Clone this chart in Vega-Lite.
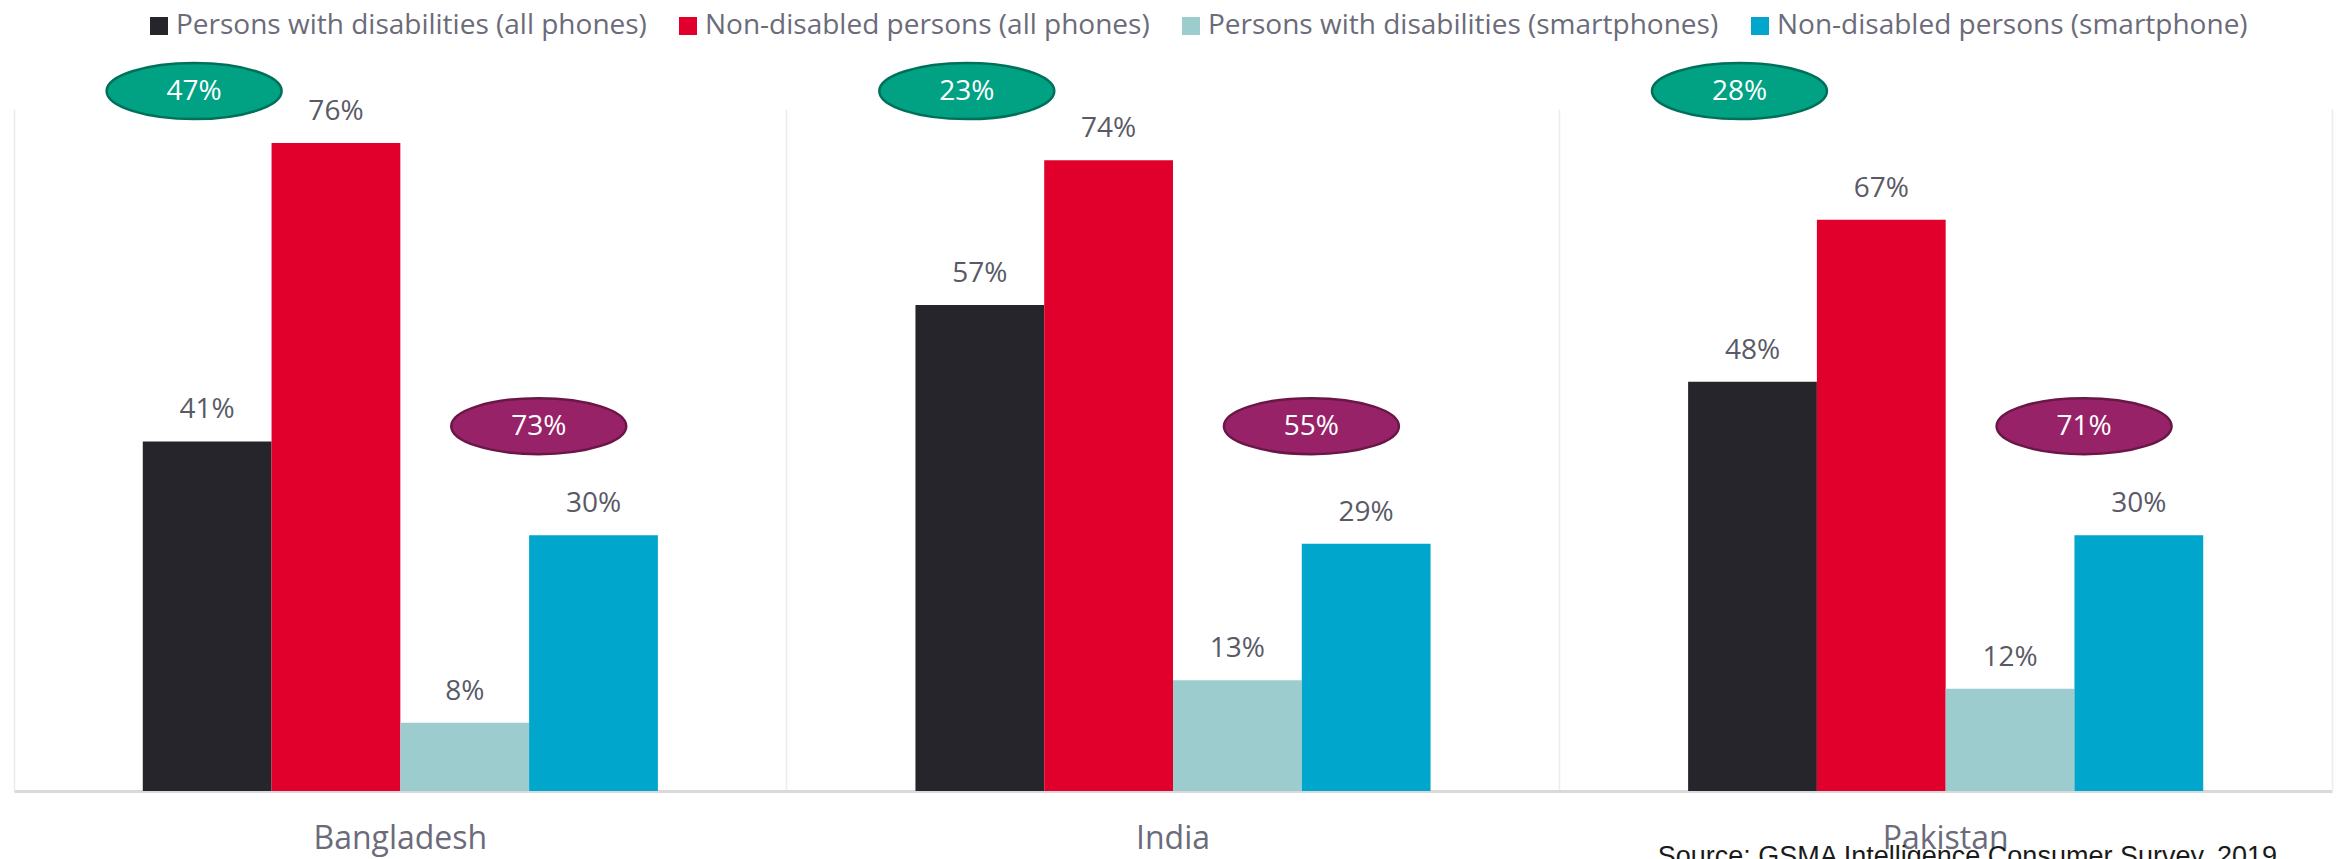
{
  "$schema": "https://vega.github.io/schema/vega-lite/v6.json",
  "width": 2318,
  "height": 682,
  "autosize": {"type": "none"},
  "padding": {"left": 14, "top": 109, "right": 9, "bottom": 68},
  "background": "white",
  "config": {"view": {"stroke": null}, "font": "Open Sans"},
  "title": {
    "text": "Source: GSMA Intelligence Consumer Survey, 2019",
    "orient": "bottom",
    "anchor": "end",
    "font": "Liberation Sans",
    "fontSize": 27,
    "fontWeight": "normal",
    "color": "#1a1a1a",
    "baseline": "top",
    "offset": -10,
    "dx": -55
  },
  "datasets": {
    "bars": [
      {"Country": "Bangladesh", "Series": "Persons with disabilities (all phones)", "Value": 0.41},
      {"Country": "Bangladesh", "Series": "Non-disabled persons (all phones)", "Value": 0.76},
      {"Country": "Bangladesh", "Series": "Persons with disabilities (smartphones)", "Value": 0.08},
      {"Country": "Bangladesh", "Series": "Non-disabled persons (smartphone)", "Value": 0.30},
      {"Country": "India", "Series": "Persons with disabilities (all phones)", "Value": 0.57},
      {"Country": "India", "Series": "Non-disabled persons (all phones)", "Value": 0.74},
      {"Country": "India", "Series": "Persons with disabilities (smartphones)", "Value": 0.13},
      {"Country": "India", "Series": "Non-disabled persons (smartphone)", "Value": 0.29},
      {"Country": "Pakistan", "Series": "Persons with disabilities (all phones)", "Value": 0.48},
      {"Country": "Pakistan", "Series": "Non-disabled persons (all phones)", "Value": 0.67},
      {"Country": "Pakistan", "Series": "Persons with disabilities (smartphones)", "Value": 0.12},
      {"Country": "Pakistan", "Series": "Non-disabled persons (smartphone)", "Value": 0.30}
    ],
    "gapAll": [
      {"Country": "Bangladesh", "Gap": 0.47},
      {"Country": "India", "Gap": 0.23},
      {"Country": "Pakistan", "Gap": 0.28}
    ],
    "gapSmart": [
      {"Country": "Bangladesh", "Gap": 0.73},
      {"Country": "India", "Gap": 0.55},
      {"Country": "Pakistan", "Gap": 0.71}
    ]
  },
  "layer": [
    {
      "data": {"name": "bars"},
      "mark": {"type": "bar"},
      "encoding": {
        "x": {
          "field": "Country",
          "type": "nominal",
          "sort": ["Bangladesh", "India", "Pakistan"],
          "scale": {"paddingInner": 0, "paddingOuter": 0},
          "axis": {
            "title": null,
            "labelFontSize": 32,
            "labelColor": "#6b6b7a",
            "labelPadding": 32,
            "labelAngle": 0,
            "ticks": false,
            "domainColor": "#d9d9d9",
            "domainWidth": 3,
            "grid": true,
            "gridColor": "#ececec",
            "gridWidth": 1.5,
            "bandPosition": 0
          }
        },
        "xOffset": {
          "field": "Series",
          "type": "nominal",
          "scale": {
            "domain": [
              "Persons with disabilities (all phones)",
              "Non-disabled persons (all phones)",
              "Persons with disabilities (smartphones)",
              "Non-disabled persons (smartphone)"
            ],
            "paddingInner": 0,
            "paddingOuter": 1.11
          }
        },
        "y": {
          "field": "Value",
          "type": "quantitative",
          "scale": {"domain": [0, 0.8], "nice": false},
          "axis": {
            "orient": "right",
            "title": null,
            "labels": false,
            "ticks": false,
            "grid": false,
            "domainColor": "#ececec",
            "domainWidth": 1.5
          }
        },
        "color": {
          "field": "Series",
          "type": "nominal",
          "scale": {
            "domain": [
              "Persons with disabilities (all phones)",
              "Non-disabled persons (all phones)",
              "Persons with disabilities (smartphones)",
              "Non-disabled persons (smartphone)"
            ],
            "range": ["#25252b", "#e0002b", "#9ccccd", "#00a6cb"]
          },
          "legend": {
            "title": null,
            "orient": "none",
            "legendX": 131,
            "legendY": -97,
            "direction": "horizontal",
            "labelFontSize": 28,
            "labelColor": "#6b6b7a",
            "labelFont": "Open Sans",
            "symbolType": "square",
            "symbolSize": 324,
            "symbolStrokeWidth": 0,
            "symbolOpacity": 1,
            "labelOffset": 3,
            "columnPadding": 27,
            "labelLimit": 800
          }
        }
      }
    },
    {
      "data": {"name": "bars"},
      "mark": {"type": "text", "baseline": "alphabetic", "dy": -23, "fontSize": 28, "color": "#5a5a66"},
      "encoding": {
        "x": {"field": "Country", "type": "nominal", "sort": ["Bangladesh", "India", "Pakistan"]},
        "xOffset": {"field": "Series", "type": "nominal"},
        "y": {"field": "Value", "type": "quantitative"},
        "text": {"field": "Value", "type": "quantitative", "format": ".0%"}
      }
    },
    {
      "data": {"name": "gapAll"},
      "mark": {
        "type": "point",
        "shape": "M -1.149 0 A 1 0.32 0 1 1 0.851 0 A 1 0.32 0 1 1 -1.149 0 Z",
        "size": 30625,
        "filled": true,
        "fill": "#00a283",
        "stroke": "#00705a",
        "strokeWidth": 2.5,
        "opacity": 1
      },
      "encoding": {
        "x": {"field": "Country", "type": "nominal", "sort": ["Bangladesh", "India", "Pakistan"]},
        "xOffset": {"datum": "Persons with disabilities (all phones)"},
        "y": {"datum": 0.821}
      }
    },
    {
      "data": {"name": "gapAll"},
      "mark": {"type": "text", "baseline": "middle", "align": "center", "fontSize": 28, "color": "white", "dx": -13, "dy": 1},
      "encoding": {
        "x": {"field": "Country", "type": "nominal", "sort": ["Bangladesh", "India", "Pakistan"]},
        "xOffset": {"datum": "Persons with disabilities (all phones)"},
        "y": {"datum": 0.821},
        "text": {"field": "Gap", "type": "quantitative", "format": ".0%"}
      }
    },
    {
      "data": {"name": "gapSmart"},
      "mark": {
        "type": "point",
        "shape": "M -0.154 0 A 1 0.32 0 1 1 1.846 0 A 1 0.32 0 1 1 -0.154 0 Z",
        "size": 30625,
        "filled": true,
        "fill": "#982268",
        "stroke": "#6a1748",
        "strokeWidth": 2.5,
        "opacity": 1
      },
      "encoding": {
        "x": {"field": "Country", "type": "nominal", "sort": ["Bangladesh", "India", "Pakistan"]},
        "xOffset": {"datum": "Persons with disabilities (smartphones)"},
        "y": {"datum": 0.428}
      }
    },
    {
      "data": {"name": "gapSmart"},
      "mark": {"type": "text", "baseline": "middle", "align": "center", "fontSize": 28, "color": "white", "dx": 74, "dy": 1},
      "encoding": {
        "x": {"field": "Country", "type": "nominal", "sort": ["Bangladesh", "India", "Pakistan"]},
        "xOffset": {"datum": "Persons with disabilities (smartphones)"},
        "y": {"datum": 0.428},
        "text": {"field": "Gap", "type": "quantitative", "format": ".0%"}
      }
    }
  ]
}
